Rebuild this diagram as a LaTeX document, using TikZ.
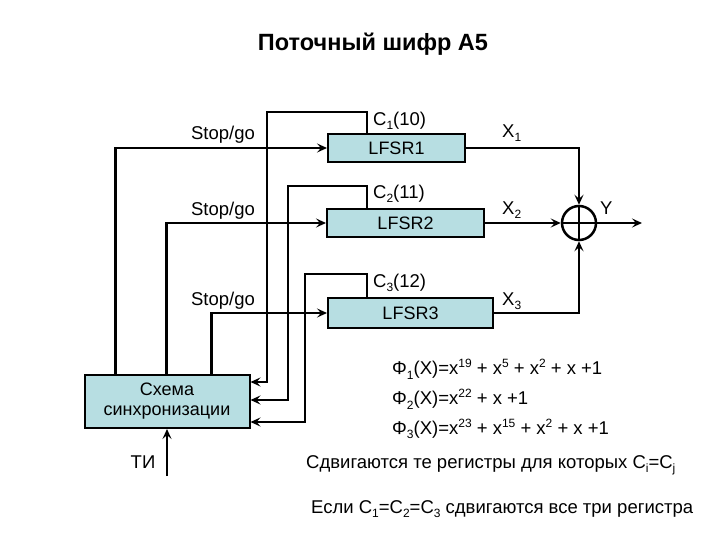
\documentclass[tikz,border=0pt]{standalone}
\usepackage{fontspec}
\setmainfont{Liberation Sans}
\usetikzlibrary{arrows.meta}
\definecolor{boxfill}{RGB}{183,222,226}
\newcommand\lo[1]{\raisebox{-0.45ex}{\fontsize{12}{12}\selectfont #1}}
\newcommand\hi[1]{\raisebox{0.75ex}{\fontsize{12}{12}\selectfont #1}}
\tikzset{
  reg/.style={draw=black, line width=2pt, fill=boxfill, inner sep=0pt, font=\fontsize{18}{21}\selectfont},
  wire/.style={line width=2.4pt, line join=miter},
  arr/.style={wire, -{Stealth[length=10pt,width=9pt,inset=4pt]}},
  lbl/.style={font=\fontsize{18.5}{22}\selectfont, inner sep=0pt},
}
\begin{document}
\begin{tikzpicture}[x=1pt,y=-1pt]
\useasboundingbox (0,0) rectangle (720,540);
\fill[white] (0,0) rectangle (720,540);

% title
\node[lbl, font=\fontsize{23.5}{28}\selectfont\bfseries] (title) at (373,44) {Поточный шифр А5};

% registers
\node[reg, minimum width=137pt, minimum height=28pt] (l1) at (396.5,148) {LFSR1};
\node[reg, minimum width=157pt, minimum height=28pt] (l2) at (405.5,223) {LFSR2};
\node[reg, minimum width=165pt, minimum height=30pt] (l3) at (410.5,313) {LFSR3};

% sync block
\node[reg, minimum width=165pt, minimum height=53pt, align=center] (sync) at (167,401.5)
  {Схема\\[-1pt]синхронизации};

% xor
\node[draw, circle, line width=2.5pt, minimum size=34pt, inner sep=0pt] (xor) at (579,223) {};
\draw[line width=2pt] (xor.north) -- (xor.south) (xor.west) -- (xor.east);

% coordinates
\coordinate (c1) at (267,112);
\coordinate (c2) at (288,186);
\coordinate (c3) at (305,274);
\coordinate (yend) at (642,223);
\coordinate (ti) at (167,476);

% stop/go lines
\draw[arr] ([xshift=32pt]sync.north west) |- (l1.west);
\draw[arr] ([xshift=83pt]sync.north west) |- (l2.west);
\draw[arr] ([xshift=128pt]sync.north west) |- (l3.west);

% clock lines back to sync
\draw[arr] ([xshift=40pt]l1.north west) |- (c1) |- ([yshift=19.5pt]sync.east);
\draw[arr] ([xshift=41pt]l2.north west) |- (c2) |- ([yshift=1.5pt]sync.east);
\draw[arr] ([xshift=40pt]l3.north west) |- (c3) |- ([yshift=-20.5pt]sync.east);

% outputs
\draw[arr] (l1.east) -| (xor.north);
\draw[arr] (l2.east) -- (xor.west);
\draw[arr] (l3.east) -| (xor.south);
\draw[arr] (xor.east) -- (yend);
\draw[arr] (ti) -- (sync.south);

% labels
\node[lbl] (sg1) at (223,135) {Stop/go};
\node[lbl] (sg2) at (223,211) {Stop/go};
\node[lbl] (sg3) at (223,301) {Stop/go};
\node[lbl, anchor=west] (cl1) at (373,121) {C\lo{1}(10)};
\node[lbl, anchor=west] (cl2) at (373,194) {C\lo{2}(11)};
\node[lbl, anchor=west] (cl3) at (373,283) {C\lo{3}(12)};
\node[lbl, anchor=west] (x1) at (502,133) {X\lo{1}};
\node[lbl, anchor=west] (x2) at (502,210) {X\lo{2}};
\node[lbl, anchor=west] (x3) at (502,301) {X\lo{3}};
\node[lbl, anchor=west] (ylbl) at (600,208) {Y};
\node[lbl] (tilbl) at (143,462) {ТИ};

% formulas
\node[lbl, anchor=west] (f1) at (392,369) {Φ\lo{1}(X)=x\hi{19} + x\hi{5} + x\hi{2} + x +1};
\node[lbl, anchor=west] (f2) at (392,399) {Φ\lo{2}(X)=x\hi{22} + x +1};
\node[lbl, anchor=west] (f3) at (392,429) {Φ\lo{3}(X)=x\hi{23} + x\hi{15} + x\hi{2} + x +1};
\node[lbl, anchor=west] (t1) at (306,465) {Сдвигаются те регистры для которых C\lo{i}=C\lo{j}};
\node[lbl, anchor=west] (t2) at (311,509) {Если C\lo{1}=C\lo{2}=C\lo{3} сдвигаются все три регистра};
\end{tikzpicture}
\end{document}
